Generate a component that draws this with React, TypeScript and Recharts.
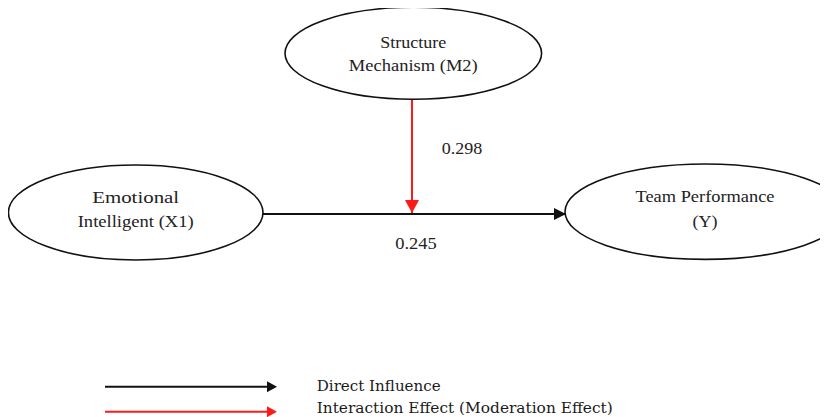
import React from 'react';
import { ScatterChart, Scatter, XAxis, YAxis } from 'recharts';

// ---- data ----
const nodeIds = ['M2', 'X1', 'Y'];
const nodeLines = [
  ['Structure', 'Mechanism (M2)'],
  ['Emotional', 'Intelligent (X1)'],
  ['Team Performance', '(Y)'],
];
const nodeX = [413.3, 135.7, 705];
const nodeY = [53.3, 212.5, 211.7];

const edgeIds = ['X1-Y', 'M2-path'];
const edgeFrom = [[263, 214], [412, 99]];
const edgeTo = [[566, 214], [412, 213]];
const edgeValues = ['0.245', '0.298'];

const legendLabels = ['Direct Influence', 'Interaction Effect (Moderation Effect)'];

// ---- styles ----
const W = 820;
const H = 409;
const nodeStyle: Record<string, { rx: number; ry: number; dy: number[]; widths: number[] }> = {
  M2: { rx: 128.3, ry: 46, dy: [-5.8, 17.5], widths: [66, 129] },
  X1: { rx: 127.3, ry: 47.5, dy: [-9.8, 14.2], widths: [87, 116] },
  Y: { rx: 140, ry: 47.7, dy: [-10, 15], widths: [139, 25] },
};
const edgeStyle: Record<string, { color: string; len: number; half: number; ldx: number; ldy: number; lw: number }> = {
  'X1-Y': { color: '#111111', len: 12, half: 6, ldx: 1.5, ldy: 35, lw: 41.5 },
  'M2-path': { color: '#ff1a1a', len: 13, half: 7, ldx: 50, ldy: -1.7, lw: 40.5 },
};
const legendColors = ['#111111', '#ff1a1a'];
const serif = '"Liberation Serif", "Times New Roman", serif';

const nodeData = nodeIds.map((id, i) => ({ id, x: nodeX[i], y: nodeY[i], lines: nodeLines[i] }));

const edgeData = edgeIds.map((id, i) => {
  const [fx, fy] = edgeFrom[i];
  const [tx, ty] = edgeTo[i];
  return {
    id,
    points: [
      { x: fx, y: fy, end: false, dx: 0, dy: 0 },
      { x: tx, y: ty, end: true, dx: tx - fx, dy: ty - fy },
    ],
    label: { x: (fx + tx) / 2, y: (fy + ty) / 2, text: edgeValues[i] },
  };
});

function arrowPoints(tipX: number, tipY: number, dx: number, dy: number, len: number, half: number) {
  const d = Math.hypot(dx, dy) || 1;
  const ux = dx / d;
  const uy = dy / d;
  const bx = tipX - ux * len;
  const by = tipY - uy * len;
  return `${tipX},${tipY} ${bx - uy * half},${by + ux * half} ${bx + uy * half},${by - ux * half}`;
}

const NodeShape = (props: any) => {
  const { cx, cy, payload } = props;
  const st = nodeStyle[payload.id];
  return (
    <g>
      <ellipse cx={cx} cy={cy} rx={st.rx} ry={st.ry} fill="#ffffff" stroke="#111111" strokeWidth={1.6} />
      {payload.lines.map((t: string, k: number) => (
        <text
          key={k}
          x={cx}
          y={cy + st.dy[k]}
          textAnchor="middle"
          fontFamily={serif}
          fontSize={16.5}
          fill="#222222"
          textLength={st.widths[k]}
          lengthAdjust="spacingAndGlyphs"
        >
          {t}
        </text>
      ))}
    </g>
  );
};

const makeArrowShape = (id: string) => (props: any) => {
  const { cx, cy, payload } = props;
  if (!payload.end) return <g />;
  const st = edgeStyle[id];
  return <polygon points={arrowPoints(cx, cy, payload.dx, payload.dy, st.len, st.half)} fill={st.color} />;
};

const makeLabelShape = (id: string) => (props: any) => {
  const { cx, cy, payload } = props;
  const st = edgeStyle[id];
  return (
    <text
      x={cx + st.ldx}
      y={cy + st.ldy}
      textAnchor="middle"
      fontFamily={serif}
      fontSize={16.5}
      fill="#222222"
      textLength={st.lw}
      lengthAdjust="spacingAndGlyphs"
    >
      {payload.text}
    </text>
  );
};

const LegendBox = () => (
  <svg width={640} height={47} style={{ position: 'absolute', left: 0, top: 362, display: 'block' }}>
    {legendLabels.map((lab, i) => {
      const y = 16.7 + i * 25; // relative to legend box top (screen y 370)
      const x0 = 97; // screen x 105
      const x1 = 269; // screen x 277
      return (
        <g key={lab}>
          <line x1={x0} y1={y} x2={x1 - 8} y2={y} stroke={legendColors[i]} strokeWidth={2} />
          <polygon points={arrowPoints(x1, y, 1, 0, 10, 5.5)} fill={legendColors[i]} />
          <text
            x={308.7}
            y={20.7 + i * 22}
            fontFamily='"DejaVu Serif", serif'
            fontSize={15}
            fill="#1a1a1a"
            textLength={i === 0 ? 124 : 296}
            lengthAdjust="spacingAndGlyphs"
          >
            {lab}
          </text>
        </g>
      );
    })}
  </svg>
);

export default function App() {
  return (
    <div style={{ width: W, height: H, position: 'relative', background: '#ffffff' }}>
      <ScatterChart width={W} height={H} margin={{ top: 0, right: 0, bottom: 0, left: 0 }}>
        <XAxis type="number" dataKey="x" domain={[8, 828]} hide allowDataOverflow />
        <YAxis type="number" dataKey="y" domain={[8, 417]} reversed hide allowDataOverflow />
        {edgeData.map((e) => (
          <Scatter
            key={e.id}
            name={e.id}
            data={e.points}
            line={{ stroke: edgeStyle[e.id].color, strokeWidth: 2 }}
            lineType="joint"
            shape={makeArrowShape(e.id)}
            isAnimationActive={false}
            legendType="none"
          />
        ))}
        <Scatter
          name="nodes"
          data={nodeData}
          shape={NodeShape}
          isAnimationActive={false}
          legendType="none"
        />
        {edgeData.map((e) => (
          <Scatter
            key={e.id + '-label'}
            name={e.id + '-label'}
            data={[e.label]}
            shape={makeLabelShape(e.id)}
            isAnimationActive={false}
            legendType="none"
          />
        ))}
      </ScatterChart>
      <LegendBox />
    </div>
  );
}
